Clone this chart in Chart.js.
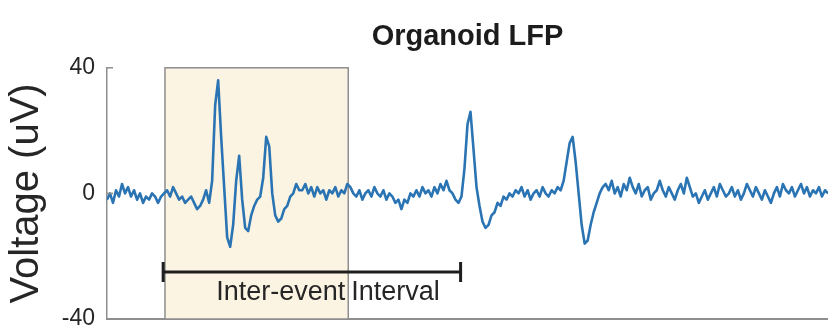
<!DOCTYPE html>
<html>
<head>
<meta charset="utf-8">
<title>Organoid LFP</title>
<script src="https://cdn.jsdelivr.net/npm/chart.js@4.4.1/dist/chart.umd.min.js"></script>
<style>
    html, body { margin: 0; padding: 0; background: #fff; }
    #lfp-chart { display: block; }
</style>
</head>
<body>
<canvas id="lfp-chart" width="828" height="333"></canvas>
<script>
// LFP trace in uV, one sample per step
const voltage = [
    -2, 0, -3, 1, -1, 3, 0, 2, -1, 1, -2, 0, -3, -1, -2, 0, -1, -3, -1, 0,
    1, -1, 2, 0, -2, -1, -3, -2, -1, -3, -5, -4, -2, 1, -3, 4, 28, 36, 18, 2,
    -14, -17, -10, 4, 12, -2, -11, -12, -7, -4, -2, -1, 5, 18, 15, 0, -7, -9, -8, -5,
    -4, -1, 0, 3, 1, 1, 3, 0, 2, -1, 2, 0, 1, -2, 1, 0, 2, -1, 1, 0,
    3, 2, 0, -1, 1, -2, 0, 1, -1, 2, 0, -1, 1, -2, 0, -1, -3, -2, -5, -2,
    -3, 0, -1, 1, -1, 2, 0, 1, -1, 2, 0, 3, 1, 4, 1, 0, -2, -3, -1, 8,
    22, 26, 14, 2, -4, -9, -11, -10, -7, -6, -3, -4, -1, -2, 0, -1, 1, 0, 2, -1,
    1, -2, 0, 1, -1, 2, 0, -1, 1, 0, 2, 1, 4, 10, 16, 18, 10, 0, -10, -16,
    -15, -10, -6, -3, 0, 2, 3, 1, 4, 0, 2, -1, 3, 1, 5, 2, 0, 3, -1, 1,
    2, -2, 0, 1, 4, 1, -1, 2, 0, -2, 1, 3, 0, 5, 2, -1, 0, -3, -1, 1,
    -2, 0, 2, -1, 3, 1, -1, 0, 2, -1, 1, -2, 0, 3, 1, -1, 2, 0, -2, 1,
    -1, -3, 0, 2, -1, 3, 1, 0, 2, -1, 1, 3, 0, 2, -1, 1, 0, 2, -1, 1,
    0
];
const samples = voltage.map((_, i) => i);

// event window (shaded) and inter-event interval, in samples
const eventWindow = [19.3, 80.3];
const interEvent = [18.7, 117.7];
const intervalLevel = -25;

const yTicks = [-40, 0, 40];

const FONT = "'Liberation Sans', Arial, Helvetica, sans-serif";
const axisGray = '#8e8e8e';

// shaded event window, drawn under the trace
const eventWindowPlugin = {
    id: 'eventWindow',
    beforeDatasetsDraw(chart) {
        const { ctx, chartArea, scales } = chart;
        const x0 = scales.x.getPixelForValue(eventWindow[0]);
        const x1 = scales.x.getPixelForValue(eventWindow[1]);
        ctx.save();
        ctx.fillStyle = 'rgb(251, 244, 226)';
        ctx.fillRect(x0, chartArea.top, x1 - x0, chartArea.bottom - chartArea.top);
        ctx.strokeStyle = axisGray;
        ctx.lineWidth = 1.5;
        ctx.strokeRect(x0, chartArea.top, x1 - x0, chartArea.bottom - chartArea.top);
        ctx.restore();
    }
};

// inward tick marks plus the interval bar and its label
const intervalPlugin = {
    id: 'interval',
    afterDatasetsDraw(chart) {
        const { ctx, chartArea, scales } = chart;
        const x = scales.x, y = scales.y;
        ctx.save();

        ctx.strokeStyle = axisGray;
        ctx.lineWidth = 1.5;
        y.ticks.forEach(t => {
            const py = y.getPixelForValue(t.value);
            ctx.beginPath();
            ctx.moveTo(chartArea.left, py);
            ctx.lineTo(chartArea.left + 6, py);
            ctx.stroke();
        });

        const xa = x.getPixelForValue(interEvent[0]);
        const xb = x.getPixelForValue(interEvent[1]);
        const yb = y.getPixelForValue(intervalLevel);
        ctx.strokeStyle = '#1e1e1e';
        ctx.lineWidth = 3;
        ctx.beginPath();
        ctx.moveTo(xa, yb);
        ctx.lineTo(xb, yb);
        ctx.moveTo(xa, yb - 10);
        ctx.lineTo(xa, yb + 10);
        ctx.moveTo(xb, yb - 10);
        ctx.lineTo(xb, yb + 10);
        ctx.stroke();

        // split the label at the window edge
        const edge = x.getPixelForValue(eventWindow[1]);
        ctx.fillStyle = '#262626';
        ctx.font = `27px ${FONT}`;
        ctx.textBaseline = 'middle';
        const ty = yb + 21;
        ctx.textAlign = 'right';
        ctx.fillText('Inter-event', edge - 3, ty);
        ctx.textAlign = 'left';
        ctx.fillText('Interval', edge + 3, ty);
        ctx.restore();
    }
};

new Chart(document.getElementById('lfp-chart'), {
    type: 'line',
    data: {
        labels: samples,
        datasets: [{
            label: 'LFP',
            data: voltage.map((v, i) => ({ x: samples[i], y: v })),
            borderColor: '#2a74b3',
            borderWidth: 2.6,
            borderJoinStyle: 'round',
            pointRadius: 0,
            tension: 0,
            fill: false
        }]
    },
    options: {
        responsive: false,
        animation: false,
        devicePixelRatio: 1,
        layout: { padding: 0 },
        plugins: {
            legend: { display: false },
            tooltip: { enabled: false },
            title: {
                display: true,
                text: 'Organoid LFP',
                fullSize: false,
                color: '#1c1c1c',
                font: { family: FONT, size: 29, weight: 'bold' },
                padding: { top: 20, bottom: 13 }
            }
        },
        scales: {
            x: {
                type: 'linear',
                min: 0,
                max: samples.length - 1,
                ticks: { display: false },
                grid: { display: false, drawTicks: false },
                border: { display: true, color: axisGray, width: 2 },
                afterFit(scale) { scale.height = 14; }
            },
            y: {
                min: -40,
                max: 40,
                afterBuildTicks(scale) { scale.ticks = yTicks.map(v => ({ value: v })); },
                ticks: {
                    color: '#262626',
                    font: { family: FONT, size: 23 },
                    padding: 12
                },
                grid: { display: false, drawTicks: false },
                border: { display: true, color: axisGray, width: 1.5 },
                title: {
                    display: true,
                    text: 'Voltage (uV)',
                    color: '#262626',
                    font: { family: FONT, size: 40 },
                    padding: { top: 3, bottom: 0 }
                },
                afterFit(scale) {
                    scale.width = 107;
                    scale.paddingTop = 0;
                    scale.paddingBottom = 0;
                }
            }
        }
    },
    plugins: [eventWindowPlugin, intervalPlugin]
});
</script>
</body>
</html>
